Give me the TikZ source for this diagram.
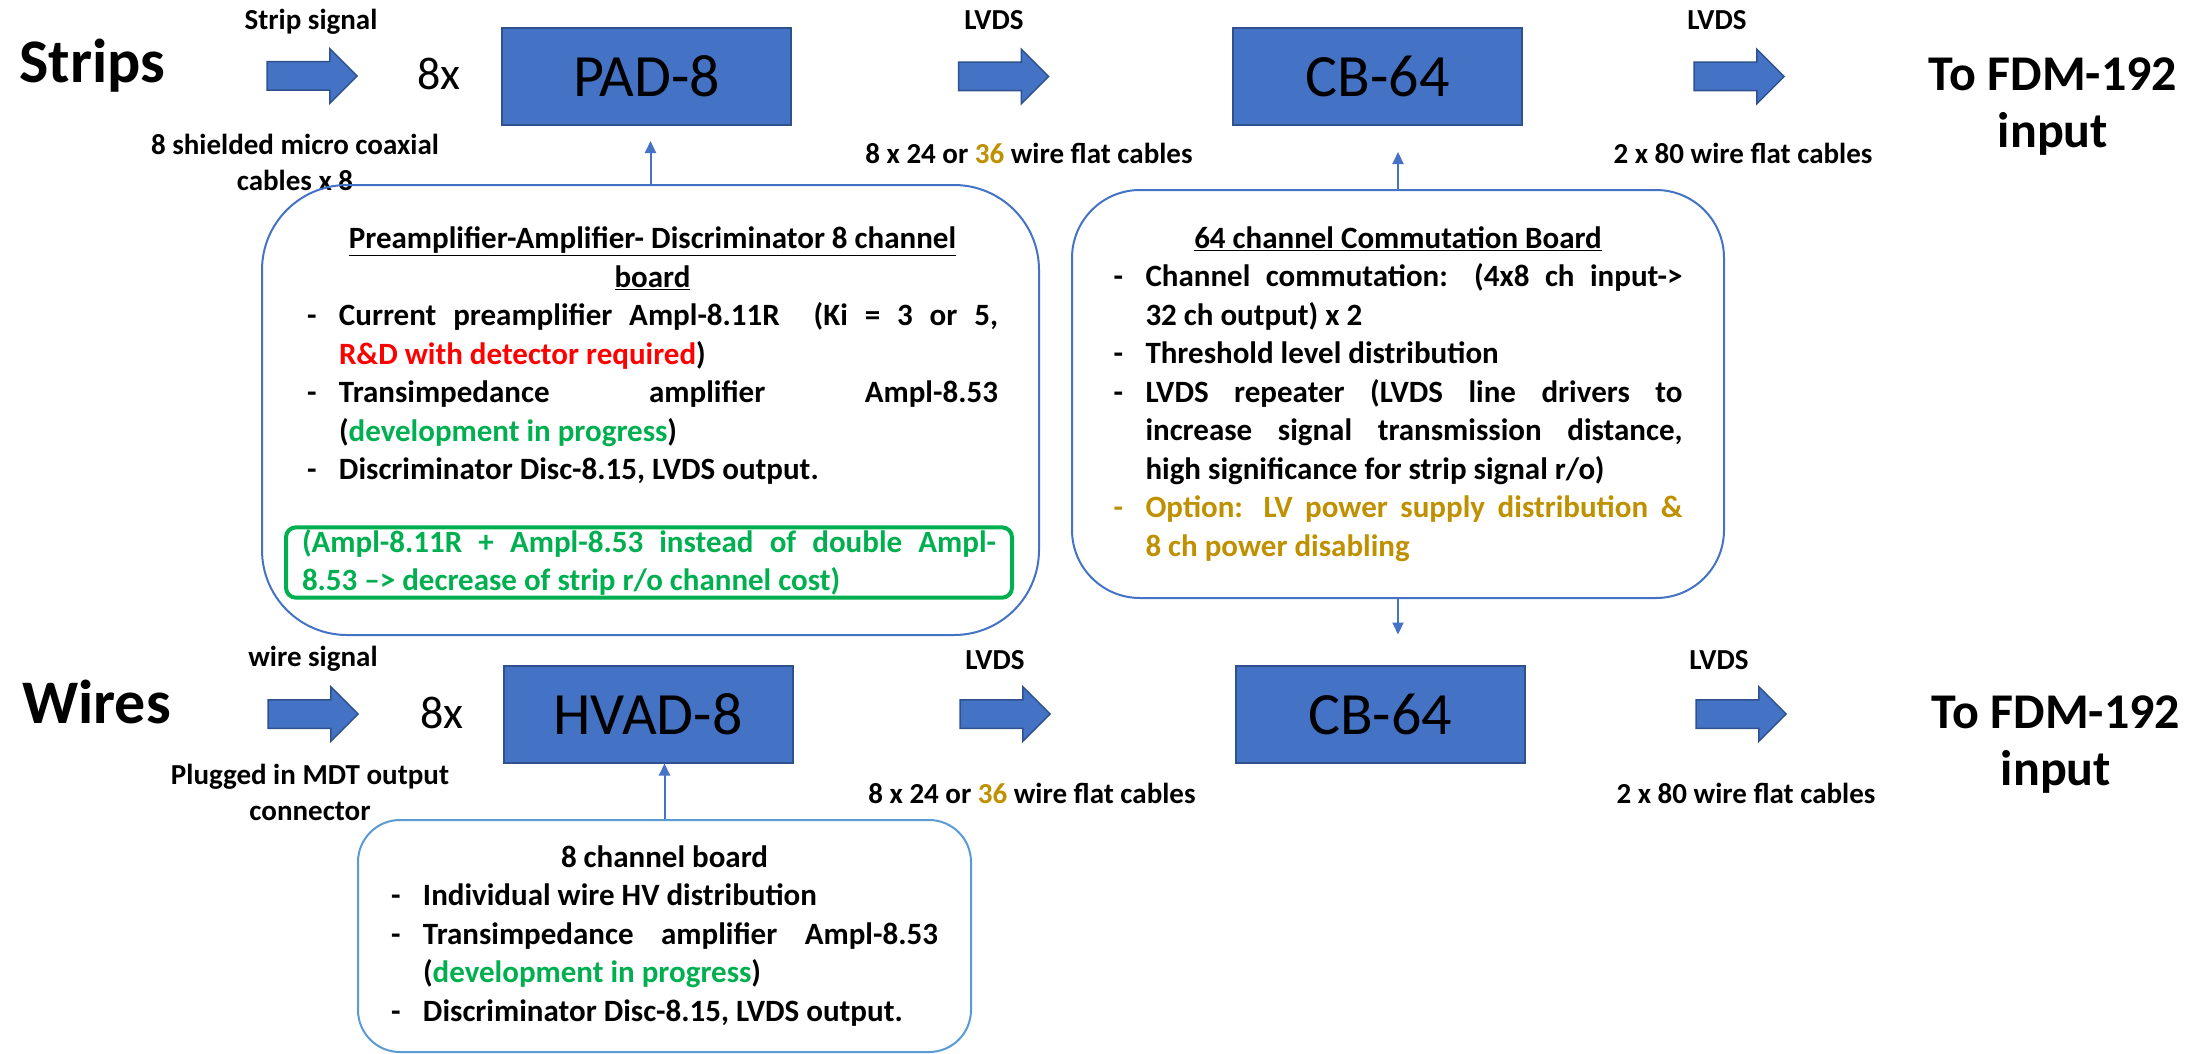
\documentclass[tikz,border=0pt]{standalone}
\usepackage{fontspec}
\setmainfont{Carlito}
\usetikzlibrary{shapes.arrows,arrows.meta}
\definecolor{blockfill}{RGB}{68, 114, 196}
\definecolor{blockline}{RGB}{47, 82, 143}
\definecolor{boxline}{RGB}{68, 114, 196}
\definecolor{boxlight}{RGB}{91, 155, 213}
\definecolor{devgreen}{RGB}{0, 176, 80}
\definecolor{optgold}{RGB}{191, 144, 0}
\definecolor{rdred}{RGB}{255, 0, 0}
\hyphenpenalty=10000
\newcommand{\bitem}[1]{\par\noindent\hangindent=32pt\hangafter=1\hbox to 32pt{-\hfil}#1\par}

\begin{document}
\begin{tikzpicture}[x=1pt, y=-1pt]
    \tikzstyle{board} = [rectangle, draw=blockline, line width=2pt, fill=blockfill,
    minimum width=289pt, minimum height=97pt, font=\fontsize{60}{72}\selectfont];
    \tikzstyle{sigarrow} = [single arrow, draw=blockline, line width=1.5pt, fill=blockfill,
    minimum height=90pt, minimum width=53pt, single arrow head extend=13pt,
    inner ysep=13.5pt, inner xsep=0pt];
    \tikzstyle{infobox} = [rectangle, draw=boxline, line width=2pt, align=justify,
    font=\fontsize{31}{38.5}\selectfont\bfseries];
    \tikzstyle{boxtext} = [inner sep=0pt, align=justify,
    font=\fontsize{31}{38.5}\selectfont\bfseries];
    \tikzstyle{notebox} = [rectangle, draw=devgreen, line width=4pt, rounded corners=10pt,
    text width=694pt, inner xsep=16pt, inner ysep=2pt, text=devgreen, align=justify,
    font=\fontsize{31}{38.5}\selectfont\bfseries];
    \tikzstyle{cablelbl} = [font=\fontsize{29}{36}\selectfont\bfseries, align=center];
    \tikzstyle{sidelbl} = [font=\fontsize{62}{74}\selectfont\bfseries, anchor=base west, inner sep=0pt];
    \tikzstyle{destlbl} = [font=\fontsize{50}{57}\selectfont\bfseries, align=center];
    \tikzstyle{multlbl} = [font=\fontsize{46}{55}\selectfont];
    \tikzstyle{conn} = [draw=boxline, line width=2pt, -{Triangle[length=12pt, width=11pt]}];

    \path[fill=white] (0,0) rectangle (2200,1054);

    % Strips row
    \node[sidelbl] (strips) at (19,83) {Strips};
    \node[cablelbl] (ssig) at (311,21.5) {Strip signal};
    \node[sigarrow] (sarr1) at (305,76) {};
    \node[cablelbl] (scoax) at (295,162) {8 shielded micro coaxial\\cables x 8};
    \node[multlbl] (smult) at (439,74) {8x};
    \node[board] (pad) at (646.5,76.5) {PAD-8};
    \node[cablelbl] (slvds1) at (994,20) {LVDS};
    \node[sigarrow] (sarr2) at (996.5,76.5) {};
    \node[cablelbl] (sflat1) at (1029,153) {8 x 24 or {\color{optgold}36} wire flat cables};
    \node[board] (cbs) at (1377.5,76.5) {CB-64};
    \node[cablelbl] (slvds2) at (1717,20) {LVDS};
    \node[sigarrow] (sarr3) at (1732,76.5) {};
    \node[cablelbl] (sflat2) at (1743,153) {2 x 80 wire flat cables};
    \node[destlbl] (sfdm) at (2053,107) {To FDM-192\\input};

    % Wires row
    \node[sidelbl] (wires) at (22,723) {Wires};
    \node[cablelbl] (wsig) at (313,659) {wire signal};
    \node[sigarrow] (warr1) at (306,714) {};
    \node[cablelbl] (wplug) at (310,792) {Plugged in MDT output\\connector};
    \node[multlbl] (wmult) at (442,713) {8x};
    \node[board] (hvad) at (648,714) {HVAD-8};
    \node[cablelbl] (wlvds1) at (995,660) {LVDS};
    \node[sigarrow] (warr2) at (998,714) {};
    \node[cablelbl] (wflat1) at (1032,793) {8 x 24 or {\color{optgold}36} wire flat cables};
    \node[board] (cbw) at (1380,714) {CB-64};
    \node[cablelbl] (wlvds2) at (1719,660) {LVDS};
    \node[sigarrow] (warr3) at (1734,714) {};
    \node[cablelbl] (wflat2) at (1746,793) {2 x 80 wire flat cables};
    \node[destlbl] (wfdm) at (2056,745) {To FDM-192\\input};

    % Board descriptions
    \node[infobox, minimum width=777pt, minimum height=450pt, rounded corners=85pt] (padinfo) at (650.5,410) {};
    \node[boxtext, text width=691pt, anchor=north] (padtext) at (652.5,227) {%
      {\centering\underline{Preamplifier-Amplifier- Discriminator 8 channel}\\\underline{board}\par}
      \bitem{Current preamplifier Ampl-8.11R \ (Ki = 3 or 5,\linebreak {\color{rdred}R\&D with detector required})}
      \bitem{Transimpedance amplifier Ampl-8.53\linebreak ({\color{devgreen}development in progress})}
      \bitem{Discriminator Disc-8.15, LVDS output.}};
    \node[notebox] (padnote) at (649,562.5) {(Ampl-8.11R + Ampl-8.53 instead of double Ampl-\linebreak 8.53 –> decrease of strip r/o channel cost)};

    \node[infobox, text width=569pt, inner xsep=41.5pt, minimum height=408pt, rounded corners=68pt] (cbinfo) at (1398,394) {%
      {\centering\underline{64 channel Commutation Board}\par}
      \bitem{Channel commutation: (4x8 ch input->\linebreak 32 ch output) x 2}
      \bitem{Threshold level distribution}
      \bitem{LVDS repeater (LVDS line drivers to\linebreak increase signal transmission distance,\linebreak high significance for strip signal r/o)}
      {\color{optgold}\bitem{Option: LV power supply distribution \&\linebreak 8 ch power disabling}}};

    \node[infobox, draw=boxlight, text width=547pt, inner xsep=33pt, minimum height=232pt, rounded corners=42pt] (hvinfo) at (664.5,936) {%
      {\centering 8 channel board\par}
      \bitem{Individual wire HV distribution}
      \bitem{Transimpedance amplifier Ampl-8.53\linebreak ({\color{devgreen}development in progress})}
      \bitem{Discriminator Disc-8.15, LVDS output.}};

    % links
    \draw[conn, shorten >=15pt] (padinfo.north) -- (padinfo.north |- pad.south);
    \draw[conn, shorten >=26pt] (cbinfo.north) -- (cbinfo.north |- cbs.south);
    \draw[conn, shorten >=30pt] (cbinfo.south) -- (cbinfo.south |- cbw.north);
    \draw[conn] (hvinfo.north) -- (hvinfo.north |- hvad.south);
\end{tikzpicture}
\end{document}
